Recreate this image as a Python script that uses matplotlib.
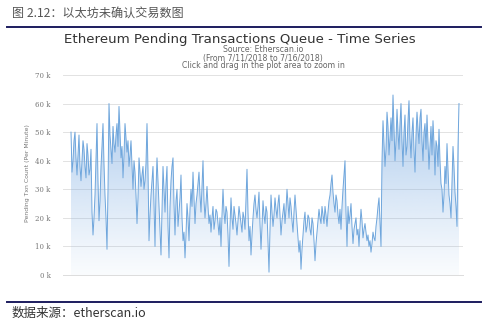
import numpy as np
import matplotlib
matplotlib.use("Agg")
import matplotlib.pyplot as plt
from matplotlib.lines import Line2D

plt.rcParams['font.family'] = ['Noto Sans CJK SC', 'DejaVu Sans']

# Pending transactions (thousands), read left to right across 7/11/2018 - 7/16/2018
pending_k = [
    50, 36, 40, 47, 50, 41, 35, 42, 49, 38, 33, 40, 47, 44, 38, 34, 46, 42, 35, 37,
    44, 22, 14, 20, 28, 41, 53, 33, 19, 26, 38, 45, 53, 39, 28, 20, 9, 30, 60, 49,
    44, 39, 52, 46, 43, 49, 53, 45, 59, 50, 41, 45, 34, 42, 53, 48, 43, 47, 38, 42,
    47, 38, 30, 40, 36, 28, 18, 27, 41, 36, 31, 35, 38, 30, 33, 39, 53, 37, 12, 21,
    28, 33, 38, 25, 10, 30, 41, 33, 24, 15, 7, 22, 38, 30, 22, 32, 38, 17, 6, 24,
    33, 38, 41, 25, 14, 26, 30, 17, 22, 27, 35, 20, 12, 15, 6, 14, 25, 20, 12, 23,
    30, 24, 36, 27, 18, 25, 28, 32, 36, 28, 22, 31, 40, 26, 20, 25, 31, 24, 18, 21,
    15, 20, 24, 16, 19, 23, 22, 18, 14, 20, 10, 21, 30, 22, 18, 24, 22, 14, 3, 17,
    27, 20, 16, 24, 21, 18, 14, 19, 24, 21, 18, 15, 22, 20, 16, 26, 37, 22, 12, 17,
    7, 14, 20, 25, 28, 23, 20, 24, 29, 18, 9, 17, 26, 21, 18, 24, 22, 12, 1, 16,
    28, 22, 17, 21, 27, 23, 20, 25, 28, 21, 14, 19, 22, 25, 18, 23, 30, 25, 20, 27,
    24, 19, 15, 22, 28, 23, 18, 13, 8, 12, 2, 9, 14, 19, 22, 15, 17, 21, 20, 16,
    14, 20, 18, 12, 5, 11, 15, 19, 23, 20, 18, 24, 21, 18, 24, 21, 17, 22, 26, 28,
    32, 35, 29, 25, 22, 28, 26, 21, 18, 23, 16, 24, 30, 35, 40, 22, 10, 24, 18, 21,
    25, 17, 11, 16, 18, 20, 14, 16, 10, 17, 23, 19, 13, 16, 18, 15, 12, 14, 10, 12,
    8, 11, 15, 13, 12, 17, 20, 24, 27, 18, 10, 40, 54, 46, 38, 44, 57, 52, 42, 48,
    55, 47, 63, 52, 40, 47, 58, 50, 44, 53, 60, 47, 38, 50, 56, 42, 45, 54, 61, 48,
    41, 50, 55, 44, 36, 49, 57, 51, 46, 55, 58, 47, 40, 50, 53, 44, 56, 47, 37, 45,
    52, 42, 54, 46, 35, 47, 45, 38, 51, 40, 32, 30, 22, 28, 38, 32, 46, 37, 28, 25,
    20, 33, 45, 38, 29, 24, 17, 45, 60,
]
y_ticks_k = [0, 10, 20, 30, 40, 50, 60, 70]
y_tick_labels = ["0 k", "10 k", "20 k", "30 k", "40 k", "50 k", "60 k", "70 k"]

title = "Ethereum Pending Transactions Queue - Time Series"
subtitle_lines = ["Source: Etherscan.io", "(From 7/11/2018 to 7/16/2018)",
                  "Click and drag in the plot area to zoom in"]
header = "图 2.12：以太坊未确认交易数图"
footer = "数据来源：etherscan.io"
y_label = "Pending Txn Count (Per Minute)"

W, H = 499, 326
fig = plt.figure(figsize=(W / 100, H / 100), dpi=100)
fig.patch.set_facecolor("white")

def fx(px):
    return px / W

def fy(py):
    return 1 - py / H

ax = fig.add_axes([fx(63), fy(275), fx(463) - fx(63), fy(75) - fy(275)])
values = np.array(pending_k, dtype=float) * 1000
x = np.arange(len(values))

ax.set_ylim(0, 70000)
ax.set_xlim(-8, len(values) - 1 + 4)

# gradient fill under the line
poly = ax.fill_between(x, values, 0, facecolor="none", edgecolor="none")
grad = np.zeros((256, 1, 4))
base = np.array([124, 172, 226]) / 255
t = np.linspace(0, 1, 256)
grad[:, 0, :3] = base
grad[:, 0, 3] = 0.04 + 0.62 * t ** 1.1
im = ax.imshow(grad, extent=[x[0], x[-1], 0, 63000], origin="lower",
               aspect="auto", zorder=1, interpolation="bilinear")
im.set_clip_path(poly.get_paths()[0], transform=ax.transData)

ax.plot(x, values, color="#6fa6dc", lw=0.7, zorder=3)

ax.set_yticks([v * 1000 for v in y_ticks_k])
ax.set_yticklabels(y_tick_labels, fontsize=5, color="#777777", family="DejaVu Serif")
ax.yaxis.grid(True, color="#e2e2e2", lw=0.7)
ax.set_axisbelow(True)
ax.tick_params(axis="y", length=0, pad=9)
ax.tick_params(axis="x", bottom=False, labelbottom=False)
for s in ax.spines.values():
    s.set_visible(False)
ax.spines["bottom"].set_visible(True)
ax.spines["bottom"].set_color("#dcdcdc")
ax.spines["bottom"].set_linewidth(0.7)

fig.text(fx(28), fy(173), y_label, rotation=90, fontsize=4.4, color="#777777",
         ha="center", va="center", family="DejaVu Sans")

fig.text(fx(240), fy(40), title, fontsize=9.6, color="#333333",
         ha="center", va="center", family="DejaVu Sans")
for line, py in zip(subtitle_lines, [50, 58, 65.5]):
    fig.text(fx(263), fy(py), line, fontsize=5.6, color="#666666",
             ha="center", va="center", family="DejaVu Sans")

fig.text(fx(12), fy(13), header, fontsize=8.7, color="#555555", ha="left", va="center")
fig.add_artist(Line2D([fx(7), fx(481)], [fy(27), fy(27)], color="#1c1c5e", lw=1.4))
fig.add_artist(Line2D([fx(7), fx(481)], [fy(302), fy(302)], color="#1c1c5e", lw=1.4))
fig.text(fx(12), fy(313), footer, fontsize=9, color="#333333", ha="left", va="center")

fig.savefig("out.png", dpi=100)
